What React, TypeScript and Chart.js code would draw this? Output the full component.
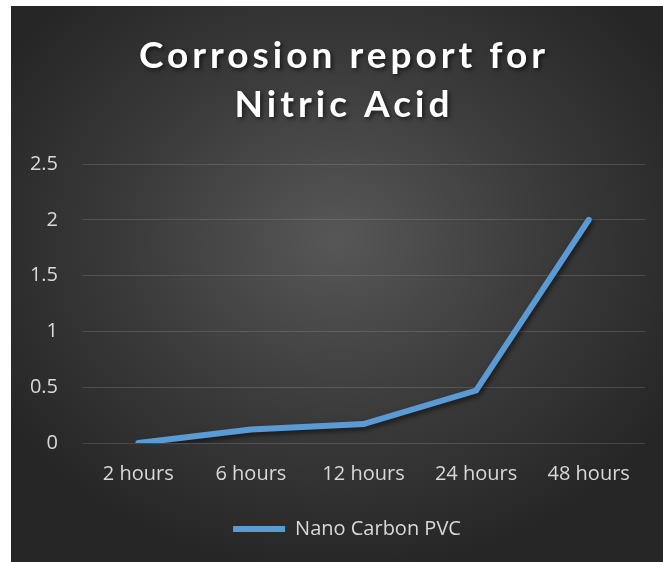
import React, { useEffect, useRef } from "react";
import { Chart, registerables } from "chart.js";

Chart.register(...registerables);

const categories = ["2 hours", "6 hours", "12 hours", "24 hours", "48 hours"];
const seriesName = "Nano Carbon PVC";
const seriesValues = [0, 0.12, 0.17, 0.47, 2.0];
const titleLines = ["Corrosion report for", "Nitric Acid"];
const yMax = 2.5;
const yStep = 0.5;

const TITLE_FONT = "Lato, 'Open Sans', sans-serif";
const FONT = "'Open Sans', Lato, sans-serif";

const lineShadow = {
  id: "lineShadow",
  beforeDatasetsDraw(chart: any) {
    const ctx = chart.ctx;
    ctx.save();
    ctx.shadowColor = "rgba(0,0,0,0.55)";
    ctx.shadowBlur = 5;
    ctx.shadowOffsetX = 2;
    ctx.shadowOffsetY = 3;
  },
  afterDatasetsDraw(chart: any) {
    chart.ctx.restore();
  },
};

const legendShift = {
  id: "legendShift",
  afterLayout(chart: any) {
    if (chart.legend) {
      chart.legend.left = chart.legend.left + 38;
    }
  },
};

const titleDraw = {
  id: "titleDraw",
  afterDraw(chart: any) {
    const ctx = chart.ctx;
    ctx.save();
    ctx.font = `bold 37px ${TITLE_FONT}`;
    (ctx as any).letterSpacing = "4px";
    ctx.fillStyle = "#ffffff";
    ctx.textAlign = "center";
    ctx.textBaseline = "alphabetic";
    ctx.shadowColor = "rgba(0,0,0,0.6)";
    ctx.shadowBlur = 4;
    ctx.shadowOffsetX = 2;
    ctx.shadowOffsetY = 2;
    const cx = 333;
    ctx.fillText(titleLines[0], cx, 62);
    ctx.fillText(titleLines[1], cx, 111);
    ctx.restore();
  },
};

export default function App() {
  const ref = useRef<HTMLCanvasElement>(null);
  useEffect(() => {
    if (!ref.current) return;
    const chart = new Chart(ref.current, {
      type: "line",
      data: {
        labels: categories,
        datasets: [
          {
            label: seriesName,
            data: seriesValues,
            borderColor: "#5B9BD5",
            backgroundColor: "#5B9BD5",
            borderWidth: 6,
            borderCapStyle: "round",
            borderJoinStyle: "miter",
            pointRadius: 0,
            pointHoverRadius: 0,
            tension: 0,
            fill: false,
          },
        ],
      },
      options: {
        responsive: false,
        animation: false,
        layout: { padding: { top: 158, right: 18, left: 0, bottom: 13 } },
        plugins: {
          title: { display: false },
          tooltip: { enabled: false },
          legend: {
            position: "bottom",
            labels: {
              usePointStyle: true,
              pointStyle: "line",
              pointStyleWidth: 52,
              boxHeight: 18,
              color: "#d9d9d9",
              font: { family: FONT, size: 20 },
              padding: 10,
            },
          },
        },
        scales: {
          x: {
            offset: true,
            grid: { display: false, drawTicks: false },
            border: { display: false },
            ticks: {
              color: "#d9d9d9",
              font: { family: FONT, size: 20 },
              padding: 19,
              maxRotation: 0,
            },
            afterFit(scale: any) {
              scale.height = 66;
            },
          },
          y: {
            min: 0,
            max: yMax,
            grid: { color: "rgba(255,255,255,0.13)", lineWidth: 1, drawTicks: false },
            border: { display: false },
            ticks: {
              stepSize: yStep,
              color: "#d9d9d9",
              font: { family: FONT, size: 20 },
              padding: 24,
              callback: (v: any) => String(Number(v)),
            },
            afterFit(scale: any) {
              scale.width = 71;
            },
          },
        },
      },
      plugins: [lineShadow, legendShift, titleDraw],
    });
    return () => chart.destroy();
  }, []);

  return (
    <div
      style={{
        position: "fixed",
        left: 11,
        top: 6,
        width: 652,
        height: 556,
        background:
          "radial-gradient(ellipse 60% 60% at 50% 42%, #575757 0%, #3a3a3a 55%, #262626 100%)",
      }}
    >
      <canvas ref={ref} width={652} height={556} style={{ display: "block" }} />
    </div>
  );
}
